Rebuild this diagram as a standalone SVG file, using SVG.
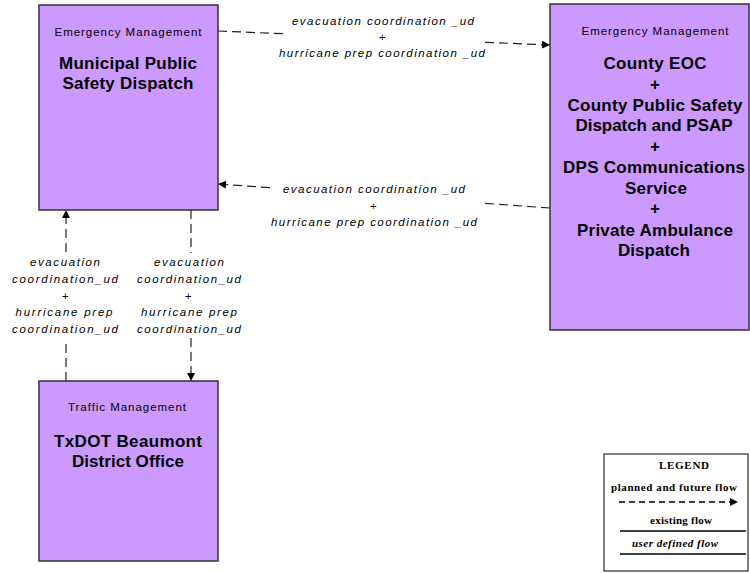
<svg xmlns="http://www.w3.org/2000/svg" width="750" height="573" viewBox="0 0 750 573">
<style>
.box{fill:#CC99FF;stroke:#333;stroke-width:1.5}
.cat{font-family:"Liberation Sans",Arial,sans-serif;font-size:11.5px;fill:#000;text-anchor:middle}
.ttl{font-family:"Liberation Sans",Arial,sans-serif;font-size:17px;font-weight:bold;fill:#000;text-anchor:middle}
.lbl{font-family:"Liberation Sans",Arial,sans-serif;font-size:11.5px;font-style:italic;fill:#000;text-anchor:middle}
.flow{fill:none;stroke:#222;stroke-width:1.2;stroke-dasharray:9,5}
.lg{font-family:"Liberation Serif","Times New Roman",serif;font-size:11px;font-weight:bold;fill:#000;text-anchor:middle}
</style>
<defs>
<marker id="arr" viewBox="0 0 10 10" refX="10" refY="5" markerWidth="8" markerHeight="8" markerUnits="userSpaceOnUse" orient="auto">
<path d="M0,0 L10,5 L0,10 Z" fill="#000"/>
</marker>
</defs>
<rect width="750" height="573" fill="#fff"/>

<g id="connectors">
<path class="flow" d="M218,31 L283,33.7"/>
<path class="flow" d="M485,42.3 L550,45" marker-end="url(#arr)"/>
<path class="flow" d="M550,208 L480,203"/>
<path class="flow" d="M270,187.7 L218,184" marker-end="url(#arr)"/>
<path class="flow" d="M66,381 L66,340"/>
<path class="flow" d="M66,252 L66,210" marker-end="url(#arr)"/>
<path class="flow" d="M191,210 L191,253"/>
<path class="flow" d="M191,338 L191,381" marker-end="url(#arr)"/>
<g id="lbl-top">
<text class="lbl" x="383" y="25" textLength="182" lengthAdjust="spacing">evacuation coordination _ud</text>
<text class="lbl" x="382" y="41">+</text>
<text class="lbl" x="382" y="57" textLength="206" lengthAdjust="spacing">hurricane prep coordination _ud</text>
</g>
<g id="lbl-mid">
<text class="lbl" x="374" y="193" textLength="182" lengthAdjust="spacing">evacuation coordination _ud</text>
<text class="lbl" x="373" y="210">+</text>
<text class="lbl" x="374" y="226" textLength="206" lengthAdjust="spacing">hurricane prep coordination _ud</text>
</g>
<g id="lbl-left">
<text class="lbl" x="65" y="266" textLength="70" lengthAdjust="spacing">evacuation</text>
<text class="lbl" x="65" y="283" textLength="106" lengthAdjust="spacing">coordination_ud</text>
<text class="lbl" x="65" y="300">+</text>
<text class="lbl" x="64" y="316" textLength="97" lengthAdjust="spacing">hurricane prep</text>
<text class="lbl" x="65" y="333" textLength="106" lengthAdjust="spacing">coordination_ud</text>
</g>
<g id="lbl-right">
<text class="lbl" x="189" y="266" textLength="70" lengthAdjust="spacing">evacuation</text>
<text class="lbl" x="189" y="283" textLength="104" lengthAdjust="spacing">coordination_ud</text>
<text class="lbl" x="188" y="300">+</text>
<text class="lbl" x="189" y="316" textLength="96" lengthAdjust="spacing">hurricane prep</text>
<text class="lbl" x="189" y="333" textLength="104" lengthAdjust="spacing">coordination_ud</text>
</g>
</g>

<g id="node-municipal">
<rect class="box" x="39" y="5" width="179" height="205"/>
<text class="cat" x="128" y="36" textLength="147" lengthAdjust="spacing">Emergency Management</text>
<text class="ttl" x="128" y="69" textLength="138" lengthAdjust="spacing">Municipal Public</text>
<text class="ttl" x="128" y="89" textLength="131" lengthAdjust="spacing">Safety Dispatch</text>
</g>

<g id="node-county">
<rect class="box" x="550" y="4" width="199" height="326"/>
<text class="cat" x="655" y="35" textLength="147" lengthAdjust="spacing">Emergency Management</text>
<text class="ttl" x="655" y="69" textLength="103" lengthAdjust="spacing">County EOC</text>
<text class="ttl" x="655" y="90">+</text>
<text class="ttl" x="655" y="111" textLength="175" lengthAdjust="spacing">County Public Safety</text>
<text class="ttl" x="654" y="131" textLength="157" lengthAdjust="spacing">Dispatch and PSAP</text>
<text class="ttl" x="655" y="152">+</text>
<text class="ttl" x="654" y="173" textLength="182" lengthAdjust="spacing">DPS Communications</text>
<text class="ttl" x="656" y="194" textLength="62" lengthAdjust="spacing">Service</text>
<text class="ttl" x="655" y="214">+</text>
<text class="ttl" x="655" y="236" textLength="156" lengthAdjust="spacing">Private Ambulance</text>
<text class="ttl" x="654" y="256" textLength="72" lengthAdjust="spacing">Dispatch</text>
</g>

<g id="node-txdot">
<rect class="box" x="39" y="381" width="179" height="180"/>
<text class="cat" x="127" y="411" textLength="118" lengthAdjust="spacing">Traffic Management</text>
<text class="ttl" x="128" y="447" textLength="148" lengthAdjust="spacing">TxDOT Beaumont</text>
<text class="ttl" x="128" y="467" textLength="112" lengthAdjust="spacing">District Office</text>
</g>

<g id="legend">
<rect x="604" y="454" width="144" height="117" fill="#fff" stroke="#000" stroke-width="1"/>
<text class="lg" x="684" y="469" textLength="50" lengthAdjust="spacing">LEGEND</text>
<text class="lg" x="674" y="491" textLength="126" lengthAdjust="spacing">planned and future flow</text>
<path d="M619,502 L738,502" fill="none" stroke="#000" stroke-width="1.3" stroke-dasharray="6,4" marker-end="url(#arr)"/>
<text class="lg" x="681" y="524" textLength="62" lengthAdjust="spacing">existing flow</text>
<path d="M620,531 L746,531" stroke="#000" stroke-width="1.3"/>
<text class="lg" x="675" y="547" font-style="italic" textLength="86" lengthAdjust="spacing">user defined flow</text>
<path d="M620,554 L746,554" stroke="#000" stroke-width="1.3"/>
</g>
</svg>
